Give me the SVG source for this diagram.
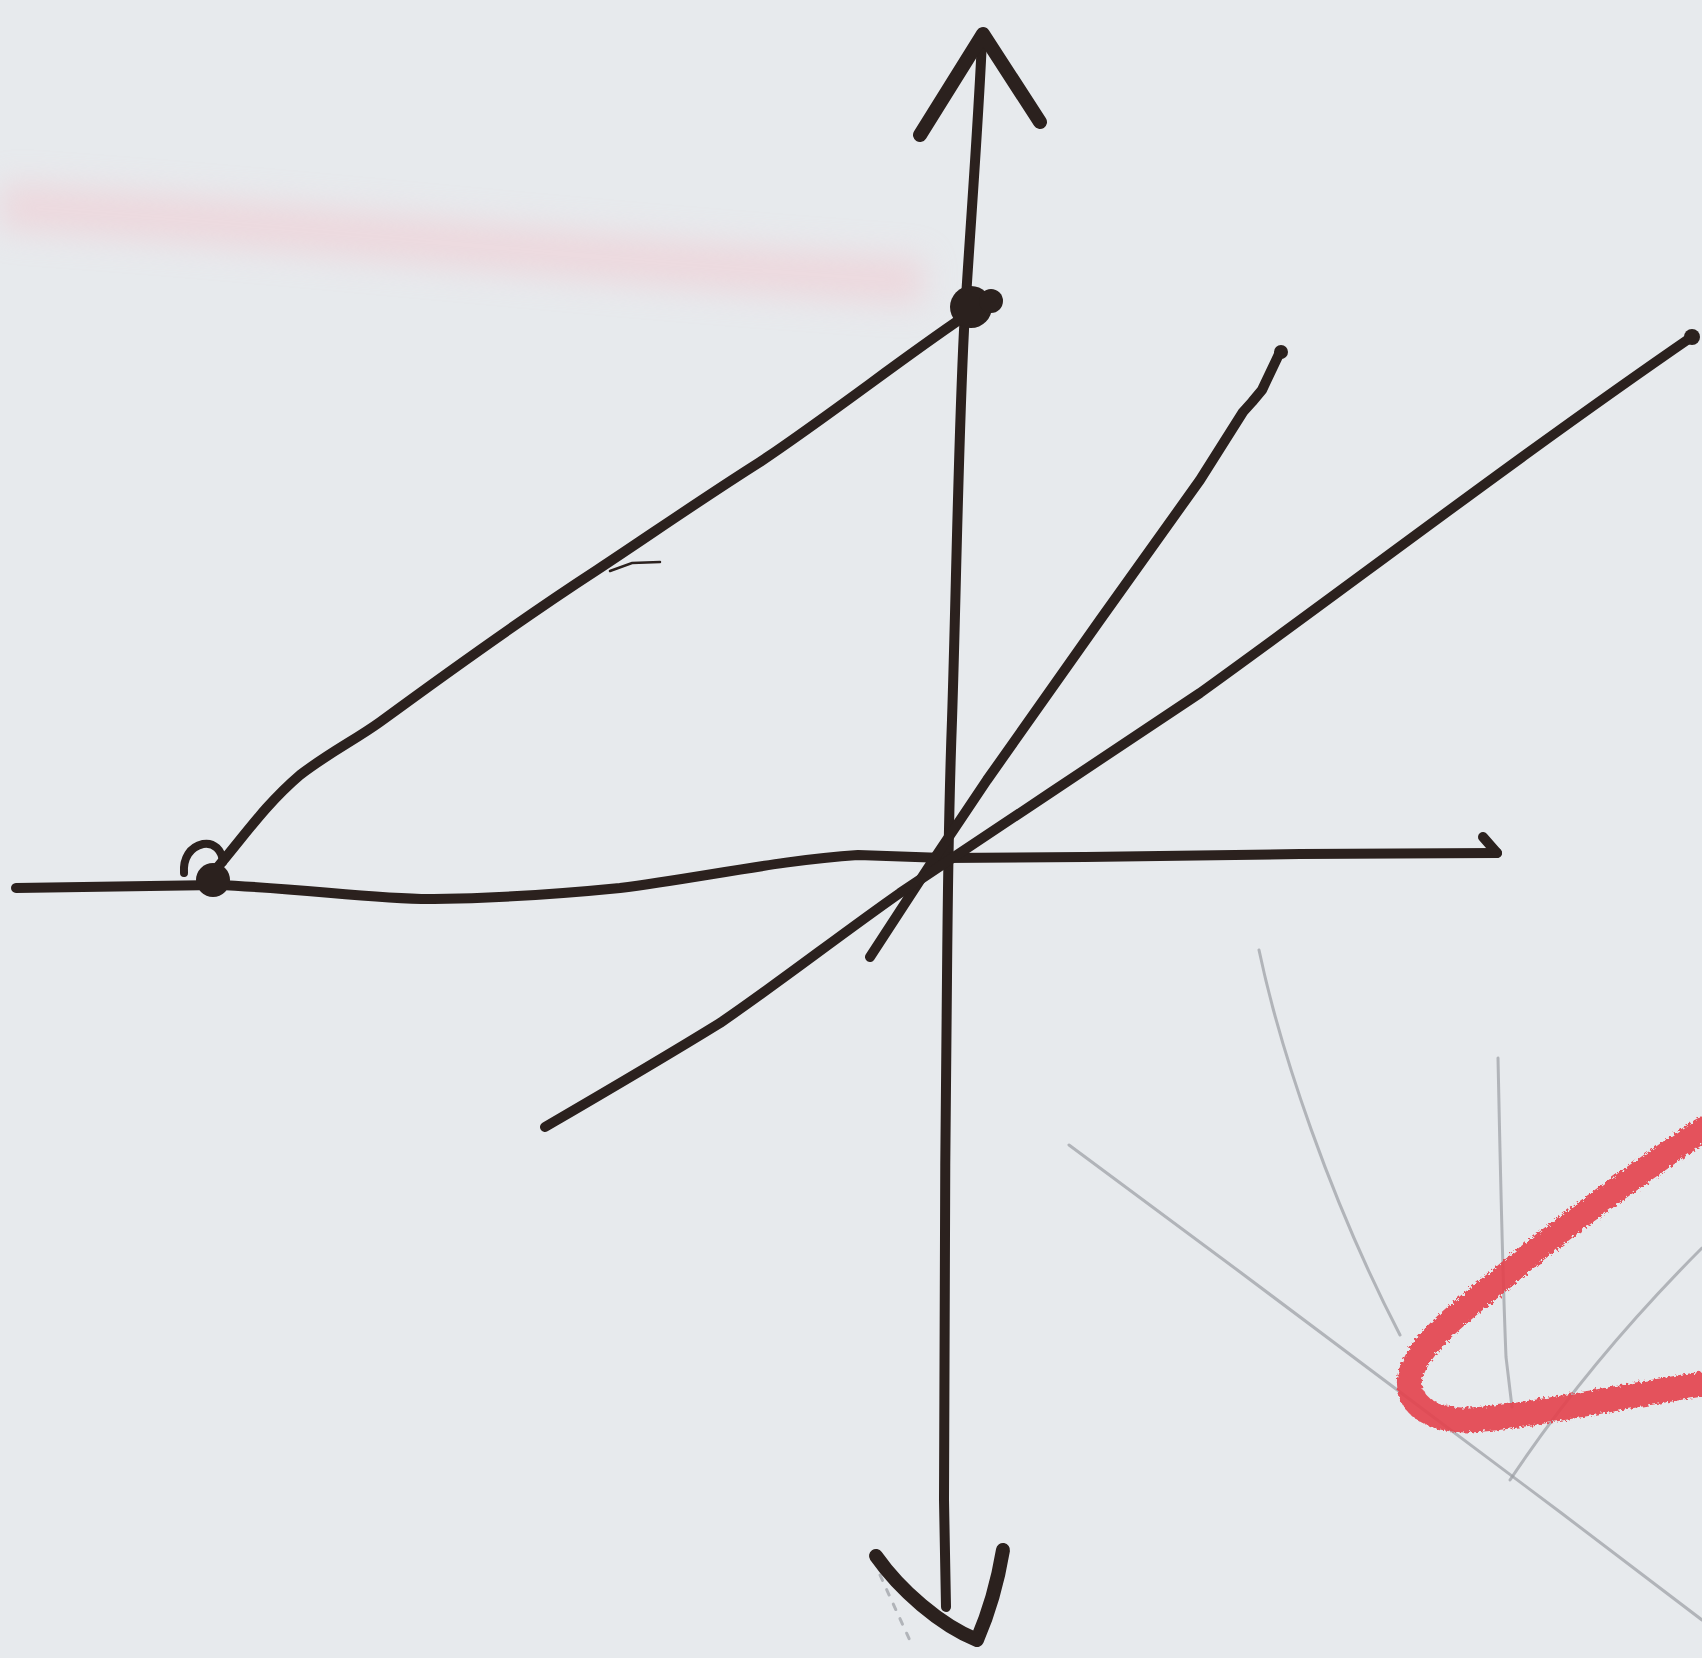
<svg xmlns="http://www.w3.org/2000/svg" width="1702" height="1658" viewBox="0 0 1702 1658">
<style>
.ink{fill:none;stroke:#2b211e;stroke-width:10;stroke-linecap:round;stroke-linejoin:round}
.ink-thick{fill:none;stroke:#2b211e;stroke-width:14;stroke-linecap:round;stroke-linejoin:round}
.pencil{fill:none;stroke:#9a9da2;stroke-width:3;stroke-linecap:round;opacity:0.7}
.crayon{fill:none;stroke:#e4434e;stroke-width:25;stroke-linecap:round;stroke-linejoin:round;opacity:0.9}
.blob{fill:#2b211e}
</style>
<defs>
<filter id="soft" x="-10%" y="-200%" width="120%" height="500%"><feGaussianBlur stdDeviation="16"/></filter>
<filter id="rough"><feTurbulence type="fractalNoise" baseFrequency="0.35" numOctaves="2" result="n"/><feDisplacementMap in="SourceGraphic" in2="n" scale="6"/></filter>
</defs>
<rect width="1702" height="1658" fill="#e7eaed"/>
<g id="background-marks">
<path d="M0,206 C300,225 600,262 923,282" stroke="#f1ccd3" stroke-width="46" fill="none" opacity="0.6" filter="url(#soft)"/>
<path class="pencil" d="M1069,1145 L1240,1272 L1400,1392 L1560,1512 L1702,1620"/>
<path class="pencil" d="M1259,950 C1280,1050 1330,1200 1400,1335"/>
<path class="pencil" d="M1498,1058 C1500,1150 1502,1260 1506,1357 L1512,1407"/>
<path class="pencil" d="M1702,1248 C1640,1310 1570,1390 1510,1480"/>
<path class="pencil" d="M880,1575 L912,1645" stroke-dasharray="6 10"/>
<path class="crayon" filter="url(#rough)" d="M1702,1130 C1640,1172 1560,1228 1500,1280 C1460,1312 1420,1342 1410,1376 C1405,1404 1430,1420 1467,1420 C1520,1418 1600,1400 1702,1384"/>
</g>
<g id="vertical-axis">
<path class="ink" d="M982,40 C978,130 970,230 964,330 C958,450 956,600 952,720 C949,800 948,860 947,977 C945,1150 944,1350 944,1500 L946,1607"/>
<path class="ink-thick" d="M920,135 L983,34 L1040,122"/>
<path class="ink-thick" d="M876,1556 C900,1590 940,1625 977,1640 C990,1610 998,1580 1003,1550"/>
</g>
<g id="horizontal-axis">
<path class="ink" d="M16,888 L217,885 C300,888 380,900 434,899 C500,898 560,894 620,888 C700,878 780,860 858,855 L944,858 L1085,857 L1300,854 L1497,853"/>
<path class="ink" d="M1483,837 L1497,853" stroke-width="7"/>
</g>
<g id="left-diagonal">
<path class="ink" d="M217,868 C245,835 265,805 300,775 C330,752 355,740 380,722 C440,678 520,620 597,570 C650,535 700,500 760,462 C830,415 900,360 962,318"/>
<path d="M610,571 L632,563 L660,562" fill="none" stroke="#2b211e" stroke-width="2.5" stroke-linecap="round"/>
</g>
<g id="line-a">
<path class="ink" d="M870,957 L930,865 L987,780 L1100,620 L1200,480 L1243,412 L1252,402 L1262,390 L1280,352"/>
</g>
<g id="line-b">
<path class="ink" d="M545,1127 C600,1095 660,1060 720,1023 C780,982 840,935 900,893 C1000,826 1100,760 1200,693 C1350,585 1520,455 1693,336"/>
</g>
<g id="point-top">
<circle class="blob" cx="971" cy="307" r="21"/>
<circle class="blob" cx="991" cy="301" r="12"/>
</g>
<g id="point-left">
<circle class="blob" cx="213" cy="880" r="17"/>
<path d="M184,873 C183,858 190,847 203,844 C214,842 222,850 223,862" fill="none" stroke="#2b211e" stroke-width="8" stroke-linecap="round"/>
</g>
<g id="end-blobs">
<circle class="blob" cx="1281" cy="352" r="7"/>
<circle class="blob" cx="1692" cy="337" r="8"/>
</g>
</svg>
